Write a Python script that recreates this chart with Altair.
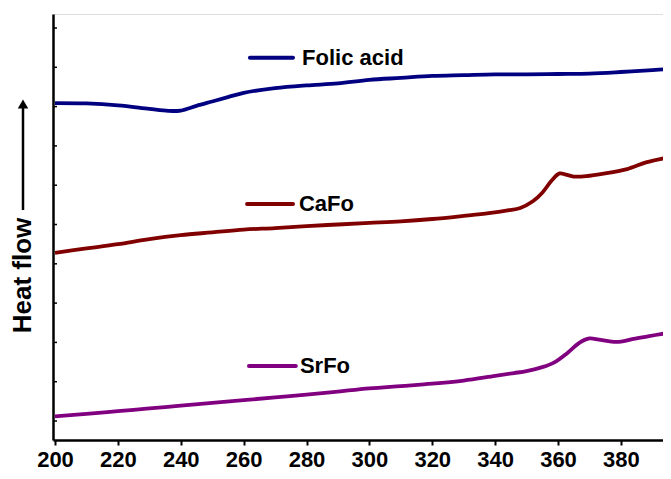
import altair as alt
import pandas as pd

# ---- data (temperature in °C, heat flow in arbitrary units) ----
temp_folic = [200, 210, 220, 230, 236, 240, 245, 250, 255, 260, 270, 280, 290, 300,
              310, 320, 330, 340, 350, 360, 370, 380, 390, 396]
hf_folic = [8.09, 8.08, 8.03, 7.94, 7.89, 7.90, 8.02, 8.13, 8.24, 8.35, 8.47, 8.54, 8.59, 8.68,
            8.73, 8.78, 8.80, 8.82, 8.82, 8.83, 8.84, 8.88, 8.93, 8.96]

temp_cafo = [200, 210, 220, 230, 240, 250, 260, 270, 280, 290, 300, 310, 320, 330, 338, 344,
             348, 352, 355, 358, 360.5, 362.5, 365, 369, 375, 382, 388, 394]
hf_cafo = [4.28, 4.39, 4.50, 4.63, 4.73, 4.80, 4.87, 4.91, 4.96, 5.00, 5.04, 5.08, 5.14, 5.22,
           5.29, 5.36, 5.42, 5.59, 5.81, 6.12, 6.30, 6.27, 6.22, 6.23, 6.30, 6.41, 6.58, 6.69]

temp_srfo = [200, 210, 220, 230, 240, 250, 260, 270, 280, 290, 300, 310, 320, 330, 340, 346,
             350, 355, 359, 363, 367, 370, 373, 377, 380, 384, 389, 394]
hf_srfo = [0.12, 0.18, 0.25, 0.32, 0.39, 0.46, 0.53, 0.60, 0.67, 0.75, 0.83, 0.89, 0.95, 1.03,
           1.15, 1.22, 1.27, 1.37, 1.50, 1.73, 2.00, 2.10, 2.07, 2.02, 2.02, 2.09, 2.16, 2.23]

samples = ["Folic acid", "CaFo", "SrFo"]
colors = ["#000080", "#800000", "#800080"]

# in-plot legend entries (line start/end temperature, level, text start)
leg_x1 = [262.0, 261.1, 261.7]
leg_x2 = [275.7, 275.7, 276.6]
leg_y = [9.24, 5.52, 1.40]
leg_tx = [278.6, 277.6, 277.9]

x_ticks = list(range(200, 400, 10))
y_ticks = list(range(0, 11))

df = pd.concat([
    pd.DataFrame({"temp": temp_folic, "hf": hf_folic, "sample": samples[0]}),
    pd.DataFrame({"temp": temp_cafo, "hf": hf_cafo, "sample": samples[1]}),
    pd.DataFrame({"temp": temp_srfo, "hf": hf_srfo, "sample": samples[2]}),
])
leg = pd.DataFrame({"sample": samples, "x1": leg_x1, "x2": leg_x2, "y": leg_y, "tx": leg_tx})
ticks_df = pd.DataFrame({"t": y_ticks})

FONT = "Liberation Sans"
x_scale = alt.Scale(domain=[199.36, 393.4], nice=False, zero=False)
y_scale = alt.Scale(domain=[-0.483, 10.356], nice=False, zero=False)
c_scale = alt.Scale(domain=samples, range=colors)

lines = alt.Chart(df).mark_line(strokeWidth=3.8, interpolate="catmull-rom", clip=True).encode(
    x=alt.X("temp:Q", scale=x_scale,
            axis=alt.Axis(values=x_ticks, title=None,
                          labelExpr="datum.value % 20 == 0 ? datum.label : ''",
                          labelFont=FONT, labelFontSize=22, labelFontWeight="bold",
                          labelColor="black", labelPadding=21, labelBaseline="alphabetic",
                          labelFlush=False,
                          tickSize=5, tickWidth=2, tickColor="black",
                          domainColor="black", domainWidth=2.5, grid=False)),
    y=alt.Y("hf:Q", scale=y_scale,
            axis=alt.Axis(labels=False, ticks=False, grid=False,
                          domainColor="black", domainWidth=2.5,
                          title="Heat flow", titleFont=FONT, titleFontSize=26,
                          titleFontWeight="bold", titleColor="black",
                          titleAngle=270, titleAlign="center", titleBaseline="middle",
                          titleX=-31, titleY=261)),
    color=alt.Color("sample:N", scale=c_scale, legend=None),
    detail="sample:N",
)

yticks = alt.Chart(ticks_df).mark_rule(color="black", strokeWidth=1.5).encode(
    y=alt.Y("t:Q", scale=y_scale),
    x=alt.value(0),
    x2=alt.value(4),
)

leg_lines = alt.Chart(leg).mark_rule(strokeWidth=4, strokeCap="round").encode(
    x=alt.X("x1:Q", scale=x_scale),
    x2="x2:Q",
    y=alt.Y("y:Q", scale=y_scale),
    color=alt.Color("sample:N", scale=c_scale, legend=None),
)
leg_text = alt.Chart(leg).mark_text(align="left", baseline="middle", font=FONT,
                                     fontSize=22, fontWeight="bold", color="black").encode(
    x=alt.X("tx:Q", scale=x_scale),
    y=alt.Y("y:Q", scale=y_scale),
    text="sample:N",
)

one = pd.DataFrame({"a": [0]})
arrow_shaft = alt.Chart(one).mark_rule(color="black", strokeWidth=2.5).encode(
    x=alt.value(-30), y=alt.value(92), y2=alt.value(196),
)
arrow_head = alt.Chart(one).mark_point(shape="triangle-up", filled=True, size=110,
                                       color="black", opacity=1).encode(
    x=alt.value(-30), y=alt.value(90),
)

chart = alt.layer(lines, yticks, leg_lines, leg_text, arrow_shaft, arrow_head).properties(
    width=610, height=426,
    padding={"left": 45, "top": 6, "right": 0, "bottom": 31},
    autosize=alt.AutoSizeParams(type="none"),
).configure_view(stroke=None).configure(background="white")

chart.save("out.html", embed_options={"renderer": "svg", "actions": False})
